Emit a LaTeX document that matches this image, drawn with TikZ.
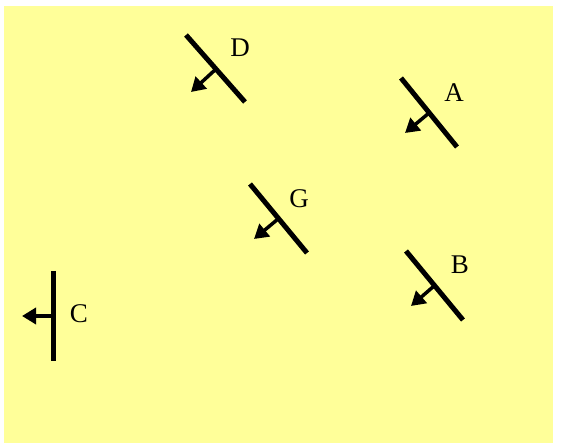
\documentclass[tikz,border=0pt]{standalone}
\usepackage{fontspec}
\setmainfont{Liberation Serif}
\usetikzlibrary{arrows.meta}
\definecolor{bgyellow}{RGB}{255,255,153}
\tikzset{
  bar/.style={line width=5pt},
  dirarrow/.style={line width=3.5pt,-{Triangle[length=14pt,width=16pt]}},
  lbl/.style={font=\fontsize{27}{32}\selectfont,inner sep=0pt}
}
\begin{document}
\begin{tikzpicture}[x=1pt,y=-1pt]
\useasboundingbox (0,0) rectangle (563,443);
\fill[white] (0,0) rectangle (563,443);
\fill[bgyellow] (4,6) rectangle (553,443);
% D
\coordinate (d1) at (186,35); \coordinate (d2) at (245,102);
\coordinate (dm) at (216,69); \coordinate (dt) at (191,92);
\draw[bar] (d1) -- (d2);
\draw[dirarrow] (dm) -- (dt);
\node[lbl] (D) at (240,48) {D};
% A
\coordinate (a1) at (401,78); \coordinate (a2) at (457,147);
\coordinate (am) at (429,113); \coordinate (at) at (405,133);
\draw[bar] (a1) -- (a2);
\draw[dirarrow] (am) -- (at);
\node[lbl] (A) at (454,93) {A};
% G
\coordinate (g1) at (250,184); \coordinate (g2) at (307,253);
\coordinate (gm) at (278,219); \coordinate (gt) at (254,239);
\draw[bar] (g1) -- (g2);
\draw[dirarrow] (gm) -- (gt);
\node[lbl] (G) at (299,199) {G};
% B
\coordinate (b1) at (406,251); \coordinate (b2) at (463,320);
\coordinate (bm) at (434,286); \coordinate (bt) at (411,306);
\draw[bar] (b1) -- (b2);
\draw[dirarrow] (bm) -- (bt);
\node[lbl] (B) at (460,265) {B};
% C
\coordinate (c1) at (53,271); \coordinate (c2) at (53,361);
\coordinate (cm) at (53,316); \coordinate (ct) at (22,316);
\draw[bar] (c1) -- (c2);
\draw[dirarrow] (cm) -- (ct);
\node[lbl] (C) at (79,314) {C};
\end{tikzpicture}
\end{document}
